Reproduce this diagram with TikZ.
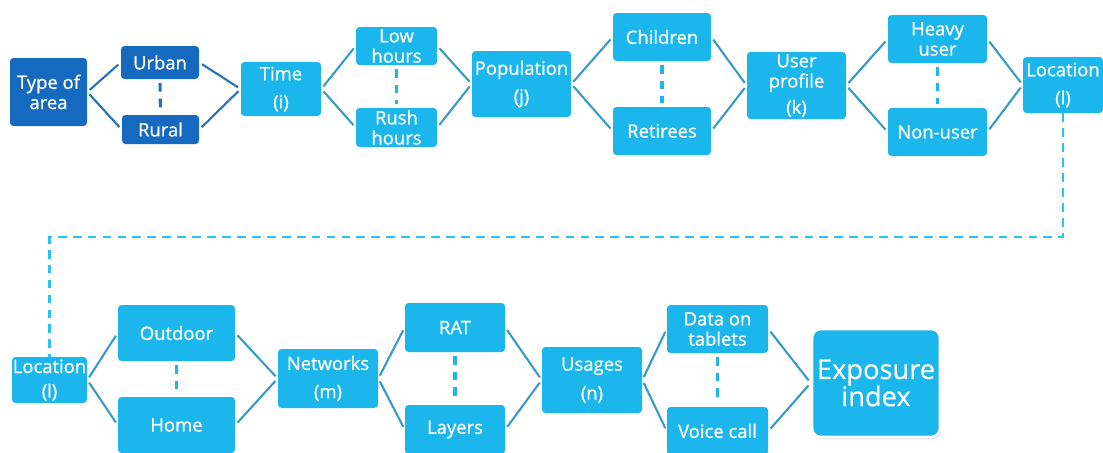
\documentclass[tikz,border=0pt]{standalone}
\usepackage{fontspec}
\setmainfont{Open Sans}
\newfontfamily\boxfont{Open Sans}[FakeBold=0.8]
\newfontfamily\bigfont{Open Sans}[FakeBold=0.3]
\usetikzlibrary{shadows}
\definecolor{lb}{RGB}{27,182,235}
\definecolor{db}{RGB}{21,105,190}
\definecolor{lline}{RGB}{55,155,200}
\definecolor{dline}{RGB}{35,115,190}
\definecolor{dashc}{RGB}{40,195,240}
\tikzset{
 box/.style={rounded corners=2pt, inner sep=0pt, text=white, align=center, font=\boxfont\fontsize{10.5}{11.5}\selectfont},
 lbox/.style={box, fill=lb},
 dbox/.style={box, fill=db},
 wh/.style 2 args={minimum width=#1*0.02cm, minimum height=#2*0.02cm},
 conn/.style={draw=lline, line width=1.2pt, shorten <=1.8pt, shorten >=1.8pt},
 dconn/.style={conn, draw=dline},
 sib/.style={draw=lb, line width=1.8pt, dash pattern=on 5pt off 4pt, shorten <=2pt, shorten >=2pt},
 dsib/.style={sib, draw=dline},
 bigdash/.style={draw=dashc, line width=1.6pt, dash pattern=on 5pt off 3.5pt},
}
\begin{document}
\begin{tikzpicture}[x=0.02cm,y=-0.02cm]
\path[use as bounding box] (0,0) rectangle (1103,453);
% top row
\node[dbox, wh={77}{68}] (area) at (48.5,92) {Type of\\area};
\node[dbox, wh={78}{33}] (urban) at (160,62.5) {Urban};
\node[dbox, wh={77}{29}] (rural) at (160.5,129.5) {Rural};
\node[lbox, wh={80}{54}] (time) at (281,89) {Time\\[4.5pt](i)};
\node[lbox, wh={81}{38}] (low) at (396.5,46) {Low\\hours};
\node[lbox, wh={81}{39}] (rush) at (396.5,127.5) {Rush\\hours};
\node[lbox, wh={99}{66}] (pop) at (521.5,84) {Population\\[4.5pt](j)};
\node[lbox, wh={98}{48}] (child) at (662,37) {Children};
\node[lbox, wh={98}{48}] (retir) at (662,131) {Retirees};
\node[lbox, wh={99}{67}] (user) at (796.5,85.5) {User\\profile\\[3.5pt](k)};
\node[lbox, wh={99}{48}] (heavy) at (937.5,39) {Heavy\\user};
\node[lbox, wh={99}{48}] (nonuser) at (937.5,132) {Non-user};
\node[lbox, wh={80}{56}] (loc1) at (1063,85) {Location\\[4.5pt](l)};
% bottom row
\node[lbox, wh={75}{46}] (loc2) at (49.5,380) {Location\\[2.5pt](l)};
\node[lbox, wh={117}{56}] (outdoor) at (176.5,333) {Outdoor};
\node[lbox, wh={117}{56}] (home) at (176.5,425) {Home};
\node[lbox, wh={100}{59}] (net) at (328,378.5) {Networks\\[4.5pt](m)};
\node[lbox, wh={100}{49}] (rat) at (455,327.5) {RAT};
\node[lbox, wh={100}{49}] (layers) at (455,429.5) {Layers};
\node[lbox, wh={100}{66}] (usage) at (592,380) {Usages\\[5pt](n)};
\node[lbox, wh={101}{48}] (data) at (717.5,329) {Data on\\tablets};
\node[lbox, wh={101}{48}] (voice) at (717.5,431) {Voice call};
\node[box, fill=lb, draw=white, line width=1.5pt, rounded corners=5pt, wh={128}{108},
  font=\bigfont\fontsize{15.5}{15.5}\selectfont,
  drop shadow={shadow xshift=0.8pt, shadow yshift=-1.2pt, opacity=0.3}] (expo) at (876,383) {Exposure\\index};
% connectors top
\foreach \a/\b in {area/urban, area/rural, urban/time, rural/time}
  \draw[dconn] (\a.east) -- (\b.west);
\foreach \a/\b in {time/low, time/rush, low/pop, rush/pop, pop/child, pop/retir,
  child/user, retir/user, user/heavy, user/nonuser, heavy/loc1, nonuser/loc1}
  \draw[conn] (\a.east) -- (\b.west);
% connectors bottom
\foreach \a/\b in {loc2/outdoor, loc2/home, outdoor/net, home/net, net/rat, net/layers,
  rat/usage, layers/usage, usage/data, usage/voice, data/expo, voice/expo}
  \draw[conn] (\a.east) -- (\b.west);
% sibling dashed links
\draw[dsib] (urban.south) -- (rural.north);
\foreach \a/\b in {low/rush, child/retir, heavy/nonuser, outdoor/home, rat/layers, data/voice}
  \draw[sib] (\a.south) -- (\b.north);
% long dashed link
\coordinate (turn) at (0,237);
\draw[bigdash] (loc1.south) |- (loc2.north |- turn) -- (loc2.north);
\end{tikzpicture}
\end{document}
